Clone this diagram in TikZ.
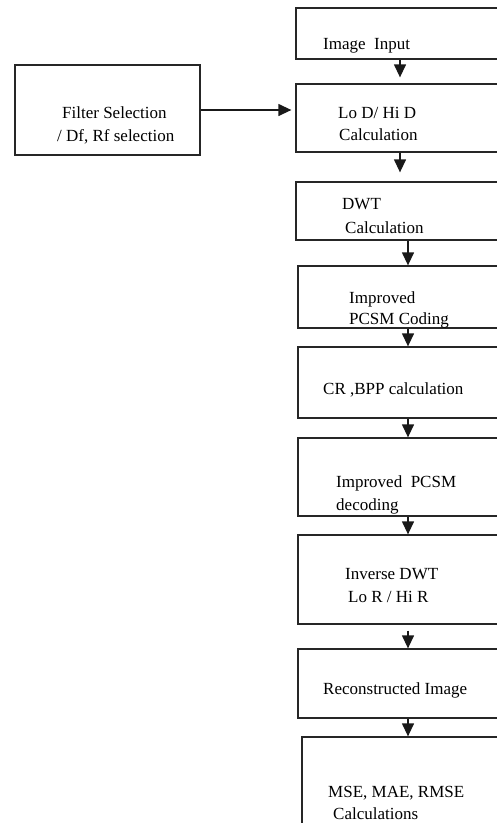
\documentclass[tikz,border=0pt]{standalone}
\usepackage{fontspec}
\setmainfont{Liberation Serif}
\usetikzlibrary{arrows.meta}

\tikzset{
  box/.style={draw=black!85, line width=1.3pt, inner sep=0pt},
  txt/.style={anchor=base west, inner sep=0pt, font=\fontsize{17}{22}\selectfont},
  arr/.style={draw=black!90, line width=1.3pt, -{Triangle[width=12pt,length=13pt]}}
}

\begin{document}
\begin{tikzpicture}[x=1pt,y=-1pt]
        \useasboundingbox (0,0) rectangle (497,823);
        \clip (0,0) rectangle (497,823);

        % Cajas del flujo principal
        \node[box, minimum width=208pt, minimum height=51pt] (b1) at (400,33.5) {};
        \node[box, minimum width=208pt, minimum height=68pt] (b2) at (400,118) {};
        \node[box, minimum width=224pt, minimum height=58pt] (b3) at (408,211) {};
        \node[box, minimum width=220pt, minimum height=62pt] (b4) at (408,297) {};
        \node[box, minimum width=220pt, minimum height=71pt] (b5) at (408,382.5) {};
        \node[box, minimum width=220pt, minimum height=78pt] (b6) at (408,477) {};
        \node[box, minimum width=220pt, minimum height=89pt] (b7) at (408,579.5) {};
        \node[box, minimum width=220pt, minimum height=69pt] (b8) at (408,683.5) {};
        \node[box, minimum width=212pt, minimum height=113pt] (b9) at (408,793.5) {};

        % Caja lateral
        \node[box, minimum width=185pt, minimum height=90pt] (filt) at (107.5,110) {};

        % Textos
        \node[txt] (t1) at (323,49) {Image\ \ Input};
        \node[txt] (t2a) at (338,118) {Lo D/ Hi D};
        \node[txt] (t2b) at (339,140) {Calculation};
        \node[txt] (t3a) at (342,209) {DWT};
        \node[txt] (t3b) at (345,233) {Calculation};
        \node[txt] (t4a) at (349,303) {Improved};
        \node[txt] (t4b) at (349,324) {PCSM Coding};
        \node[txt] (t5) at (323,394) {CR ,BPP calculation};
        \node[txt] (t6a) at (336,487) {Improved\ \ PCSM};
        \node[txt] (t6b) at (336,510) {decoding};
        \node[txt] (t7a) at (345,579) {Inverse DWT};
        \node[txt] (t7b) at (348,602) {Lo R / Hi R};
        \node[txt] (t8) at (323,694) {Reconstructed Image};
        \node[txt] (t9a) at (328,797) {MSE, MAE, RMSE};
        \node[txt] (t9b) at (333,819) {Calculations};
        \node[txt] (tfa) at (62,118) {Filter Selection};
        \node[txt] (tfb) at (57,141) {/ Df, Rf selection};

        % Flechas
        \draw[arr, shorten >=6pt] (b1) -- (b2);
        \draw[arr, shorten >=9pt] (b2.south) -- (b2.south |- b3.north);
        \foreach \a/\b in {b3/b4,b4/b5,b5/b6,b6/b7,b8/b9} {
            \draw[arr] (\a) -- (\b);
        }
        \draw[arr, shorten <=6pt] (b7) -- (b8);
        \draw[arr, shorten >=4pt] (filt.east) -- (filt.east -| b2.west);
    \end{tikzpicture}
\end{document}
